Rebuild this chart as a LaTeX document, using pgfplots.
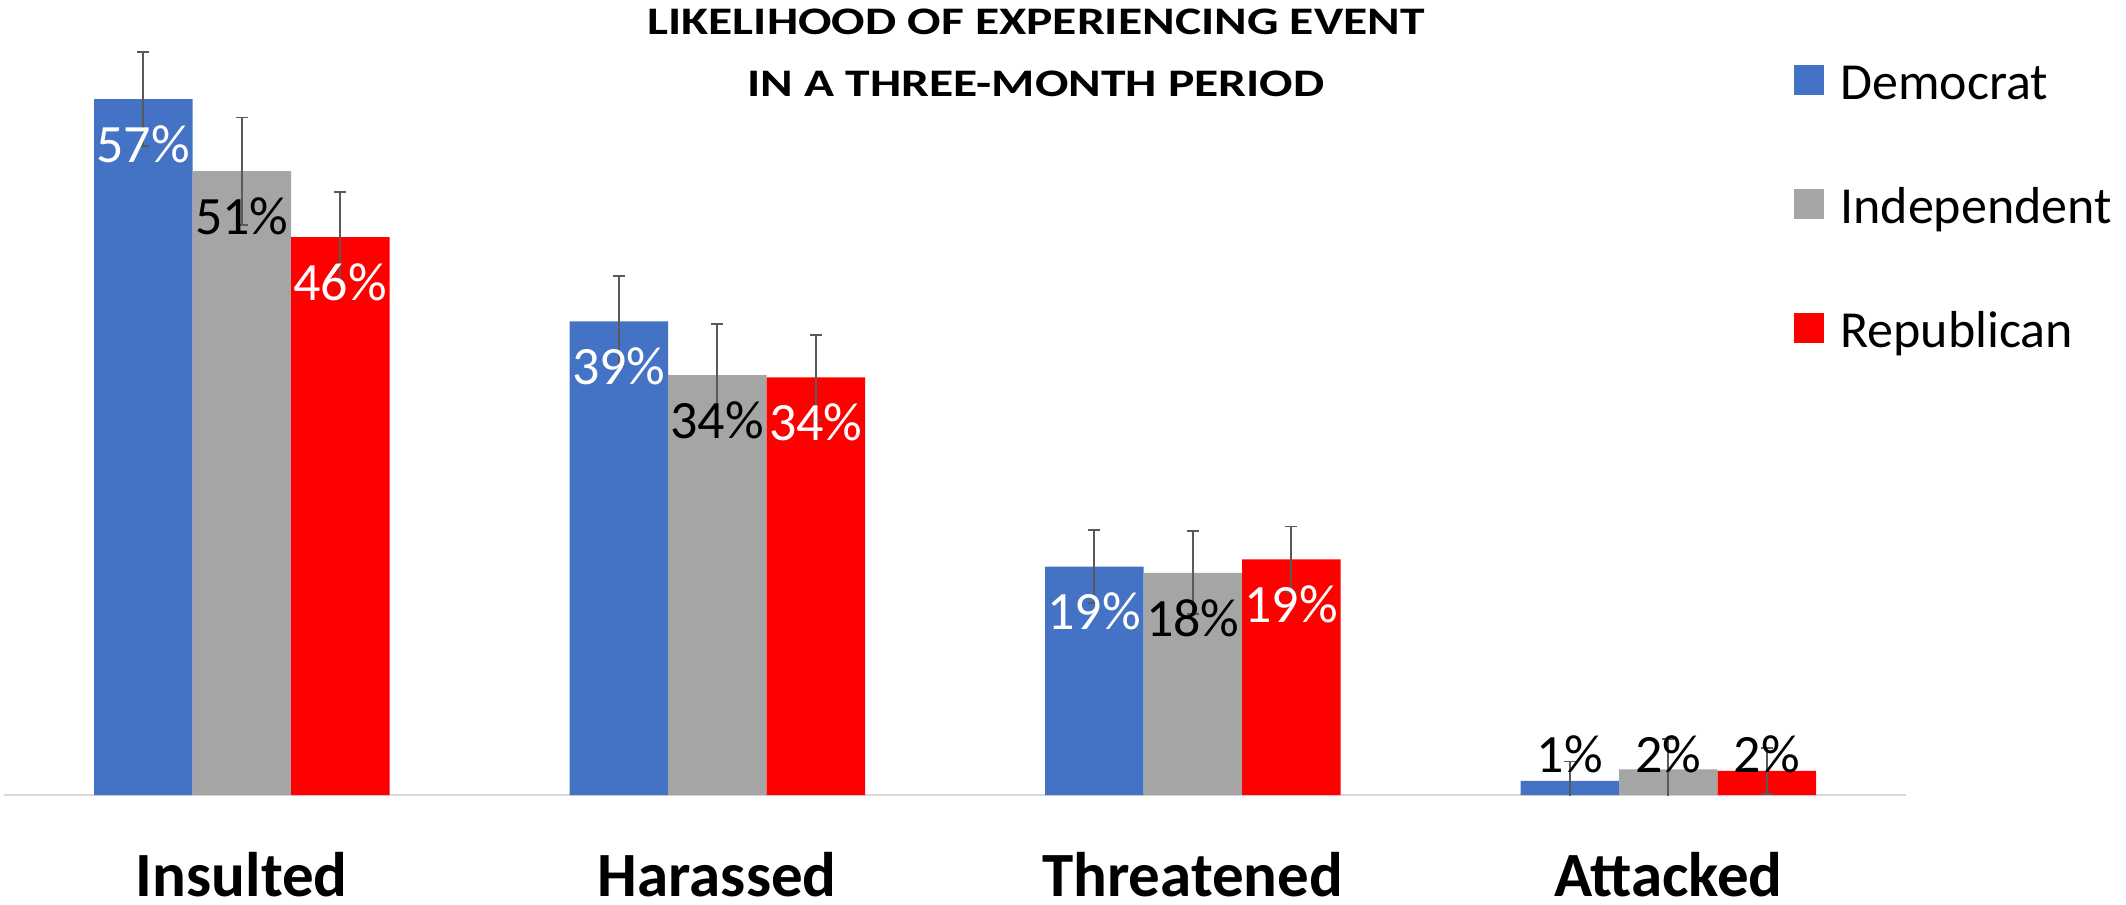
\documentclass[border=0pt]{standalone}
\usepackage{pgfplots}
\usepackage{pgfplotstable}
\pgfplotsset{compat=1.18}
\usepackage{fontspec}
\setmainfont{Carlito}

\definecolor{dem}{HTML}{4472C4}
\definecolor{ind}{HTML}{A5A5A5}
\definecolor{rep}{HTML}{FF0000}
\definecolor{errgray}{HTML}{595959}
\definecolor{axisgray}{HTML}{D9D9D9}

% x: 0 Insulted, 1 Harassed, 2 Threatened, 3 Attacked
% the labels of Attacked are set above the bars, further down
\pgfplotstableread{
x y    e    lab
0 57.0 3.85 57\%
1 38.8 3.7  39\%
2 18.7 3.0  19\%
3 1.15 1.6  {}
}\demdata
\pgfplotstableread{
x y    e    lab
0 51.1 4.4  51\%
1 34.4 4.2  34\%
2 18.2 3.4  18\%
3 2.1  2.5  {}
}\inddata
\pgfplotstableread{
x y    e    lab
0 45.7 3.7  46\%
1 34.2 3.5  34\%
2 19.3 2.7  19\%
3 1.97 1.9  {}
}\repdata

\pgfplotsset{
  errs/.style={
    error bars/y dir=both, error bars/y explicit,
    error bars/error bar style={draw=errgray, line width=0.85pt},
    error bars/error mark options={rotate=90, mark size=3pt,
      line width=0.85pt, draw=errgray}},
  toplab/.style={draw=none, fill=none, forget plot,
    nodes near coords style={text=black, anchor=base, yshift=22.5pt}},
}

\begin{document}
\begin{tikzpicture}
  \path[use as bounding box] (0,0) rectangle (1063pt,452.5pt);
  \begin{axis}[
    at={(2pt,55pt)}, anchor=south west,
    width=951pt, height=396.8pt, scale only axis,
    ybar=0pt, bar width=49.25pt,
    xmin=-0.5, xmax=3.5, ymin=0, ymax=65,
    enlargelimits=false,
    axis x line=bottom, axis y line=none,
    x axis line style={-, draw=axisgray, line width=0.75pt},
    xtick={0,1,2,3},
    xticklabels={Insulted,Harassed,Threatened,Attacked},
    major tick length=0pt,
    xticklabel style={font=\bfseries\fontsize{31.5}{31.5}\selectfont,
      anchor=base, inner sep=0pt, yshift=-50.5pt},
    ytick=\empty,
    point meta=explicit symbolic,
    nodes near coords={\pgfplotspointmeta},
    every node near coord/.append style={font=\fontsize{27}{27}\selectfont,
      anchor=center, yshift=-22.5pt, inner sep=0pt},
    legend style={draw=none, fill=none, at={(0.9411,0.9274)},
      anchor=north west, inner sep=0pt, row sep=36pt, column sep=8pt,
      font=\fontsize{26}{26}\selectfont,
      nodes={inner sep=0pt, text height=20pt, text depth=6pt}},
    legend cell align=left,
    legend image code/.code={\fill[#1,draw=none] (0pt,-5pt) rectangle (15pt,10pt);},
  ]
    \addplot[fill=dem, draw=none, bar shift=-49.25pt, errs,
      nodes near coords style={text=white}]
      table[x=x, y=y, y error=e, meta=lab] {\demdata};
    \addplot[fill=ind, draw=none, bar shift=0pt, errs,
      nodes near coords style={text=black}]
      table[x=x, y=y, y error=e, meta=lab] {\inddata};
    \addplot[fill=rep, draw=none, bar shift=49.25pt, errs,
      nodes near coords style={text=white}]
      table[x=x, y=y, y error=e, meta=lab] {\repdata};
    \legend{Democrat, Independent, Republican}

    % Attacked: labels stand above the short bars
    \addplot[toplab, bar shift=-49.25pt] coordinates {(3,1.88) [1\%]};
    \addplot[toplab, bar shift=0pt] coordinates {(3,1.88) [2\%]};
    \addplot[toplab, bar shift=49.25pt] coordinates {(3,1.88) [2\%]};
  \end{axis}

  \node[anchor=base, inner sep=0pt, font=\bfseries\fontsize{19.5}{19.5}\selectfont]
    at (518pt,435.35pt) {\scalebox{1.27}[1]{LIKELIHOOD OF EXPERIENCING EVENT}};
  \node[anchor=base, inner sep=0pt, font=\bfseries\fontsize{19.5}{19.5}\selectfont]
    at (518pt,404.15pt) {\scalebox{1.27}[1]{IN A THREE-MONTH PERIOD}};
\end{tikzpicture}
\end{document}
